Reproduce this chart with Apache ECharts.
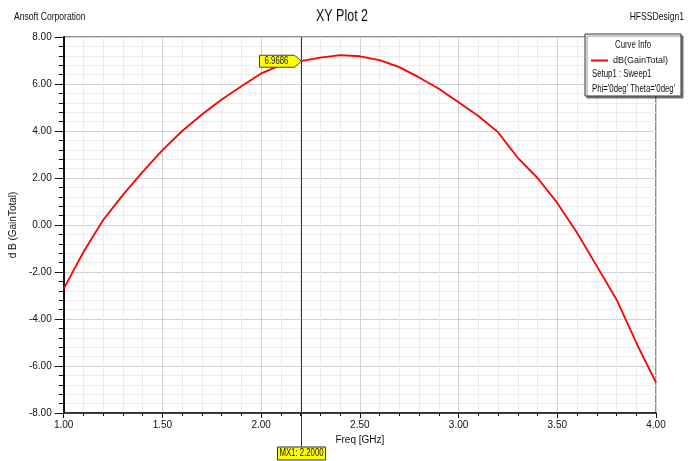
<!DOCTYPE html>
<html>
<head>
<meta charset="utf-8">
<title>XY Plot 2</title>
<script src="https://cdn.jsdelivr.net/npm/echarts@6/dist/echarts.min.js"></script>
<style>
html, body { margin: 0; padding: 0; background: #fff; }
#main { width: 697px; height: 461px; }
</style>
</head>
<body>
<div id="main"></div>
<script>
// values
let freq = [1.0, 1.1, 1.2, 1.3, 1.4, 1.5, 1.6, 1.7, 1.8, 1.9, 2.0, 2.1, 2.2, 2.3, 2.4, 2.5, 2.6, 2.7, 2.8, 2.9, 3.0, 3.1, 3.2, 3.25, 3.3, 3.4, 3.5, 3.6, 3.7, 3.8, 3.9, 4.0]
let gainTotal = [-2.72, -1.15, 0.21, 1.28, 2.26, 3.19, 4.0, 4.70, 5.34, 5.9, 6.45, 6.8, 6.9686, 7.12, 7.23, 7.18, 7.02, 6.72, 6.28, 5.8, 5.22, 4.64, 3.95, 3.4, 2.86, 2.0, 0.94, -0.33, -1.75, -3.17, -5.01, -6.71]
let markerX = 2.2
let markerY = 6.9686
let curveInfo = ['Setup1 : Sweep1', "Phi='0deg' Theta='0deg'"]

let font = "'Liberation Sans', Arial, sans-serif"
// the original uses a narrow face, so graphic texts get squeezed a bit
let narrow = 0.78

let dom = echarts.init(document.getElementById('main'))
let option = {
    animation: false,
    backgroundColor: '#fff',
    textStyle: { fontFamily: font },
    legend: {
        data: ['dB(GainTotal)'],
        left: 591,
        top: 56,
        z: 200,
        icon: 'rect',
        itemWidth: 17,
        itemHeight: 2,
        itemGap: 4,
        padding: 0,
        textStyle: { fontSize: 9, color: '#111', fontFamily: font }
    },
    grid: {
        left: 60,
        right: 41,
        top: 37,
        bottom: 48,
        show: true,
        borderColor: '#222',
        borderWidth: 1
    },
    xAxis: {
        type: 'value',
        min: 1,
        max: 4,
        interval: 0.5,
        name: 'Freq [GHz]',
        nameLocation: 'middle',
        nameGap: 20,
        nameTextStyle: { fontSize: 10, color: '#111', fontFamily: font },
        axisLine: { onZero: false, lineStyle: { color: '#111', width: 1.5 } },
        axisTick: { length: 5, lineStyle: { color: '#111' } },
        minorTick: { show: true, splitNumber: 5, length: 3, lineStyle: { color: '#111' } },
        axisLabel: { fontSize: 10, color: '#111', margin: 7, formatter: v => v.toFixed(2) },
        splitLine: { lineStyle: { color: '#d2d2d2' } },
        minorSplitLine: { show: true, lineStyle: { color: '#ececec' } }
    },
    yAxis: {
        type: 'value',
        min: -8,
        max: 8,
        interval: 2,
        name: 'd B (GainTotal)',
        nameLocation: 'middle',
        nameGap: 38,
        nameTextStyle: { fontSize: 10, color: '#111', fontFamily: font },
        axisLine: { onZero: false, lineStyle: { color: '#111', width: 2 } },
        axisTick: { length: 9, lineStyle: { color: '#111' } },
        minorTick: { show: true, splitNumber: 5, length: 5, lineStyle: { color: '#111' } },
        axisLabel: { fontSize: 10, color: '#111', margin: 12, formatter: v => v.toFixed(2) },
        splitLine: { lineStyle: { color: '#d2d2d2' } },
        minorSplitLine: { show: true, lineStyle: { color: '#ececec' } }
    },
    series: [
        {
            name: 'dB(GainTotal)',
            type: 'line',
            data: freq.map((f, i) => [f, gainTotal[i]]),
            showSymbol: false,
            symbol: 'none',
            lineStyle: { color: '#ff0000', width: 1.8 },
            itemStyle: { color: '#ff0000' },
            z: 5
        }
    ]
}
dom.setOption(option)

// marker and curve info box, placed through the chart's own scales
let tipPx = dom.convertToPixel({ gridIndex: 0 }, [markerX, markerY])
let topPx = dom.convertToPixel({ gridIndex: 0 }, [markerX, 8])
let botPx = dom.convertToPixel({ gridIndex: 0 }, [markerX, -8])
let px = Math.round(tipPx[0]) + 0.5
let py = tipPx[1]
let by = botPx[1]

function label(text, x, y, size, align, extra) {
    return Object.assign({
        type: 'text', z: 100, x: x, y: y, scaleX: narrow,
        style: { text: text, fontSize: size, fill: '#111', align: align, verticalAlign: 'middle', fontFamily: font }
    }, extra || {})
}

dom.setOption({
    graphic: [
        label('Ansoft Corporation', 14, 17, 11, 'left'),
        label('XY Plot 2', 342, 17, 16, 'center'),
        label('HFSSDesign1', 684, 17, 11, 'right'),
        {
            type: 'line', z: 50,
            shape: { x1: px, y1: topPx[1], x2: px, y2: by + 34 },
            style: { stroke: '#333', lineWidth: 1 }
        },
        {
            type: 'polygon', z: 60,
            shape: { points: [[px, py], [px - 7, py - 6], [px - 42, py - 6], [px - 42, py + 6], [px - 7, py + 6]] },
            style: { fill: '#ffff00', stroke: '#444', lineWidth: 1 }
        },
        label(markerY.toFixed(4), px - 25, py, 10, 'center', { z: 61 }),
        {
            type: 'rect', z: 60,
            shape: { x: px - 24, y: by + 34, width: 48, height: 13 },
            style: { fill: '#ffff00', stroke: '#333', lineWidth: 1 }
        },
        label('MX1: ' + markerX.toFixed(4), px, by + 40.5, 10, 'center', { z: 61 }),
        {
            type: 'rect', z: 99,
            shape: { x: 585, y: 34, width: 96, height: 62 },
            style: { fill: '#fff', stroke: '#333', lineWidth: 1, shadowColor: 'rgba(0,0,0,0.45)', shadowOffsetX: 2, shadowOffsetY: 2, shadowBlur: 1 }
        },
        label('Curve Info', 633, 45, 10, 'center'),
        label(curveInfo[0], 592, 74, 10, 'left'),
        label(curveInfo[1], 592, 89, 10, 'left')
    ]
})
</script>
</body>
</html>
